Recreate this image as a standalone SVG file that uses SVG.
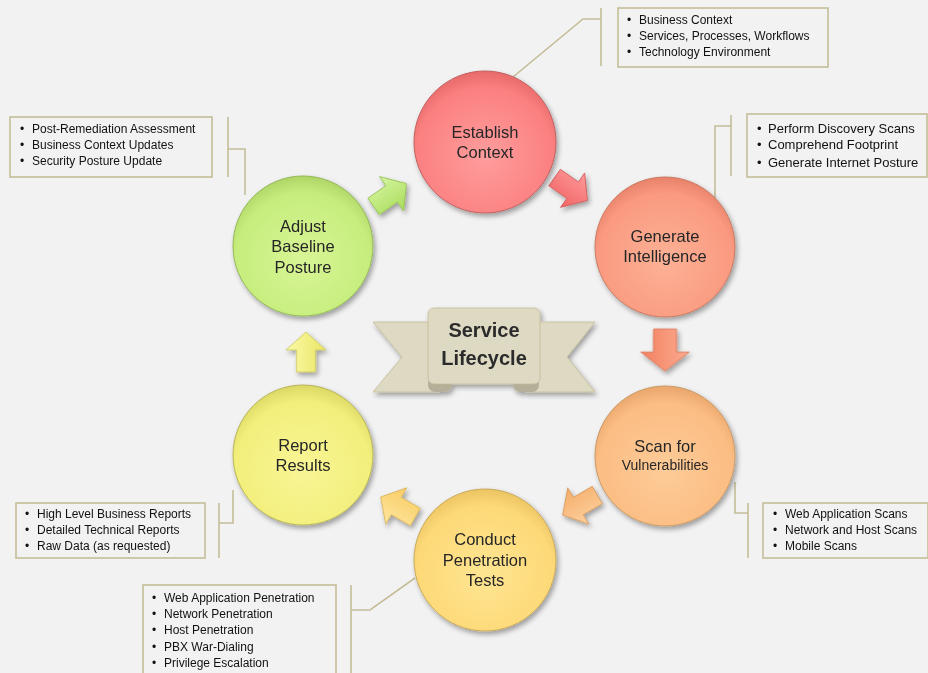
<svg xmlns="http://www.w3.org/2000/svg" width="928" height="673" viewBox="0 0 928 673">
<defs>
<style>
.box{fill:#f2f2f2;stroke:#c4bd97;stroke-width:1.6}
.ln{fill:none;stroke:#c4bd97;stroke-width:1.6}
.ct{font-family:"Liberation Sans",Arial,sans-serif;font-size:12px;fill:#111}
.nt{font-family:"Liberation Sans",Arial,sans-serif;font-size:16.5px;fill:#262626;text-anchor:middle}
.circ{stroke-width:1}
.arr{stroke-width:0.8}
</style>
<filter id="sh" x="-20%" y="-20%" width="140%" height="140%">
<feDropShadow dx="2" dy="3" stdDeviation="2.5" flood-color="#000" flood-opacity="0.35"/>
</filter>
<radialGradient id="gRed" cx="50%" cy="60%" r="60%"><stop offset="0" stop-color="#ff9d9d"/><stop offset="0.8" stop-color="#fb8080"/><stop offset="1" stop-color="#e86a6a"/></radialGradient>
<radialGradient id="gSal" cx="50%" cy="60%" r="60%"><stop offset="0" stop-color="#fcb196"/><stop offset="0.8" stop-color="#fa9a80"/><stop offset="1" stop-color="#e8826a"/></radialGradient>
<radialGradient id="gOra" cx="50%" cy="60%" r="60%"><stop offset="0" stop-color="#fdcb98"/><stop offset="0.8" stop-color="#fbbd83"/><stop offset="1" stop-color="#eaa66c"/></radialGradient>
<radialGradient id="gYor" cx="50%" cy="60%" r="60%"><stop offset="0" stop-color="#fee592"/><stop offset="0.8" stop-color="#fdd977"/><stop offset="1" stop-color="#ecc462"/></radialGradient>
<radialGradient id="gYel" cx="50%" cy="60%" r="60%"><stop offset="0" stop-color="#f8f596"/><stop offset="0.8" stop-color="#f3ef7b"/><stop offset="1" stop-color="#dcd866"/></radialGradient>
<radialGradient id="gGrn" cx="50%" cy="60%" r="60%"><stop offset="0" stop-color="#d8f596"/><stop offset="0.8" stop-color="#c6ed7c"/><stop offset="1" stop-color="#aed566"/></radialGradient>
<linearGradient id="aRed" x1="0" y1="0" x2="0" y2="1"><stop offset="0" stop-color="#ff9a9a"/><stop offset="1" stop-color="#f06464"/></linearGradient>
<linearGradient id="aSal" x1="0" y1="0" x2="0" y2="1"><stop offset="0" stop-color="#fcab90"/><stop offset="1" stop-color="#f2805f"/></linearGradient>
<linearGradient id="aOra" x1="0" y1="0" x2="0" y2="1"><stop offset="0" stop-color="#fdd0a0"/><stop offset="1" stop-color="#f5ad68"/></linearGradient>
<linearGradient id="aYor" x1="0" y1="0" x2="0" y2="1"><stop offset="0" stop-color="#fee6a0"/><stop offset="1" stop-color="#f8cc62"/></linearGradient>
<linearGradient id="aYel" x1="0" y1="0" x2="0" y2="1"><stop offset="0" stop-color="#fafaa8"/><stop offset="1" stop-color="#ebe666"/></linearGradient>
<linearGradient id="aGrn" x1="0" y1="0" x2="0" y2="1"><stop offset="0" stop-color="#d6f5a0"/><stop offset="1" stop-color="#a8dc5c"/></linearGradient>
<polygon id="arrow" points="-20,-10 2,-10 2,-21 20,0 2,21 2,10 -20,10"/>
</defs>
<rect width="928" height="673" fill="#f2f2f2"/>

<g id="connectors">
<polyline class="ln" points="601,8 601,66"/>
<polyline class="ln" points="601,19 583,19 513,77"/>
<polyline class="ln" points="731,115 731,176"/>
<polyline class="ln" points="731,126 715,126 715,200"/>
<polyline class="ln" points="748,503 748,558"/>
<polyline class="ln" points="748,513 735,513 735,482"/>
<polyline class="ln" points="351,585 351,673"/>
<polyline class="ln" points="351,610 370,610 415,578"/>
<polyline class="ln" points="219,503 219,558"/>
<polyline class="ln" points="219,523 233,523 233,490"/>
<polyline class="ln" points="228,117 228,177"/>
<polyline class="ln" points="228,149 245,149 245,195"/>
</g>

<g id="arrows" filter="url(#sh)">
<use href="#arrow" transform="translate(571,189) rotate(35)" fill="url(#aRed)" stroke="#d05a5a" class="arr"/>
<use href="#arrow" transform="translate(665,350) rotate(90) scale(1.05,1.15)" fill="url(#aSal)" stroke="#d8765a" class="arr"/>
<use href="#arrow" transform="translate(580,505) rotate(150)" fill="url(#aOra)" stroke="#d89a5c" class="arr"/>
<use href="#arrow" transform="translate(398,507) rotate(210)" fill="url(#aYor)" stroke="#d8b45c" class="arr"/>
<use href="#arrow" transform="translate(306,352) rotate(270) scale(1,0.95)" fill="url(#aYel)" stroke="#c8c45a" class="arr"/>
<use href="#arrow" transform="translate(390,195) rotate(-35)" fill="url(#aGrn)" stroke="#94c050" class="arr"/>
</g>

<g id="establish">
<circle cx="485" cy="142" r="71" fill="url(#gRed)" stroke="#c26060" class="circ" filter="url(#sh)"/>
<text class="nt" x="485" y="138">Establish</text>
<text class="nt" x="485" y="158">Context</text>
</g>
<g id="generate">
<circle cx="665" cy="247" r="70" fill="url(#gSal)" stroke="#c87a62" class="circ" filter="url(#sh)"/>
<text class="nt" x="665" y="242">Generate</text>
<text class="nt" x="665" y="262">Intelligence</text>
</g>
<g id="scan">
<circle cx="665" cy="456" r="70" fill="url(#gOra)" stroke="#c89a66" class="circ" filter="url(#sh)"/>
<text class="nt" x="665" y="452">Scan for</text>
<text class="nt" x="665" y="470" style="font-size:14px">Vulnerabilities</text>
</g>
<g id="conduct">
<circle cx="485" cy="560" r="71" fill="url(#gYor)" stroke="#c8aa5c" class="circ" filter="url(#sh)"/>
<text class="nt" x="485" y="545">Conduct</text>
<text class="nt" x="485" y="566">Penetration</text>
<text class="nt" x="485" y="586">Tests</text>
</g>
<g id="report">
<circle cx="303" cy="455" r="70" fill="url(#gYel)" stroke="#b8b45a" class="circ" filter="url(#sh)"/>
<text class="nt" x="303" y="451">Report</text>
<text class="nt" x="303" y="471">Results</text>
</g>
<g id="adjust">
<circle cx="303" cy="246" r="70" fill="url(#gGrn)" stroke="#94b85a" class="circ" filter="url(#sh)"/>
<text class="nt" x="303" y="232">Adjust</text>
<text class="nt" x="303" y="252">Baseline</text>
<text class="nt" x="303" y="273">Posture</text>
</g>

<g id="center-ribbon">
<g filter="url(#sh)">
<polygon points="373,322 440,322 440,392 373,392 402,357" fill="#ddd9c3" stroke="#c4bd97" stroke-width="0.8"/>
<polygon points="525,322 595,322 567,357 595,392 525,392" fill="#ddd9c3" stroke="#c4bd97" stroke-width="0.8"/>
<rect x="428" y="376" width="24" height="16" rx="7" fill="#b4af98"/>
<rect x="513" y="376" width="26" height="16" rx="7" fill="#b4af98"/>
<rect x="428" y="308" width="112" height="76" rx="6" fill="#ddd9c3" stroke="#c4bd97" stroke-width="0.8"/>
</g>
<text x="484" y="337" text-anchor="middle" style="font-family:'Liberation Sans',Arial,sans-serif;font-size:20px;font-weight:bold;fill:#2b2b2b">Service</text>
<text x="484" y="365" text-anchor="middle" style="font-family:'Liberation Sans',Arial,sans-serif;font-size:20px;font-weight:bold;fill:#2b2b2b">Lifecycle</text>
</g>

<g id="callout-establish">
<rect class="box" x="618" y="8" width="210" height="59"/>
<text class="ct" x="627" y="24">•</text><text class="ct" x="639" y="24">Business Context</text>
<text class="ct" x="627" y="40">•</text><text class="ct" x="639" y="40">Services, Processes, Workflows</text>
<text class="ct" x="627" y="56">•</text><text class="ct" x="639" y="56">Technology Environment</text>
</g>
<g id="callout-generate">
<rect class="box" x="747" y="114" width="180" height="63"/>
<text class="ct" x="757" y="133" style="font-size:13px">•</text><text class="ct" x="768" y="133" style="font-size:13px">Perform Discovery Scans</text>
<text class="ct" x="757" y="149" style="font-size:13px">•</text><text class="ct" x="768" y="149" style="font-size:13px">Comprehend Footprint</text>
<text class="ct" x="757" y="167" style="font-size:13px">•</text><text class="ct" x="768" y="167" style="font-size:13px">Generate Internet Posture</text>
</g>
<g id="callout-scan">
<rect class="box" x="763" y="503" width="165" height="55"/>
<text class="ct" x="773" y="518">•</text><text class="ct" x="785" y="518">Web Application Scans</text>
<text class="ct" x="773" y="534">•</text><text class="ct" x="785" y="534">Network and Host Scans</text>
<text class="ct" x="773" y="550">•</text><text class="ct" x="785" y="550">Mobile Scans</text>
</g>
<g id="callout-conduct">
<rect class="box" x="143" y="585" width="193" height="95"/>
<text class="ct" x="152" y="602">•</text><text class="ct" x="164" y="602">Web Application Penetration</text>
<text class="ct" x="152" y="618">•</text><text class="ct" x="164" y="618">Network Penetration</text>
<text class="ct" x="152" y="634">•</text><text class="ct" x="164" y="634">Host Penetration</text>
<text class="ct" x="152" y="651">•</text><text class="ct" x="164" y="651">PBX War-Dialing</text>
<text class="ct" x="152" y="667">•</text><text class="ct" x="164" y="667">Privilege Escalation</text>
</g>
<g id="callout-report">
<rect class="box" x="16" y="503" width="189" height="55"/>
<text class="ct" x="25" y="518">•</text><text class="ct" x="37" y="518">High Level Business Reports</text>
<text class="ct" x="25" y="534">•</text><text class="ct" x="37" y="534">Detailed Technical Reports</text>
<text class="ct" x="25" y="550">•</text><text class="ct" x="37" y="550">Raw Data (as requested)</text>
</g>
<g id="callout-adjust">
<rect class="box" x="10" y="117" width="202" height="60"/>
<text class="ct" x="20" y="133">•</text><text class="ct" x="32" y="133">Post-Remediation Assessment</text>
<text class="ct" x="20" y="149">•</text><text class="ct" x="32" y="149">Business Context Updates</text>
<text class="ct" x="20" y="165">•</text><text class="ct" x="32" y="165">Security Posture Update</text>
</g>
</svg>
